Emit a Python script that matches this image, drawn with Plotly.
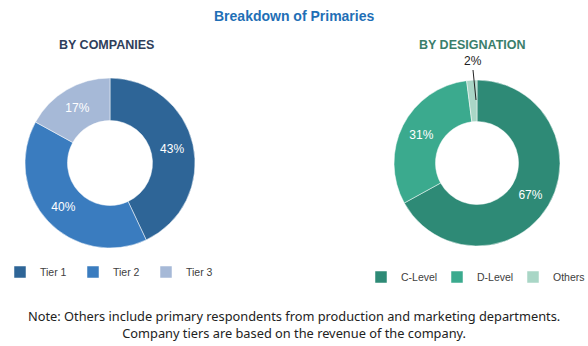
import plotly.graph_objects as go

company_labels = ["Tier 1", "Tier 2", "Tier 3"]
company_values = [43, 40, 17]
company_colors = ["#2E6597", "#3A7CBF", "#A6B9D7"]

designation_labels = ["C-Level", "D-Level", "Others"]
designation_values = [67, 31, 2]
designation_colors = ["#2E8A76", "#3BAA8E", "#A9D6C6"]

title_text = "Breakdown of Primaries"
left_title = "BY COMPANIES"
right_title = "BY DESIGNATION"
note_lines = ["Note: Others include primary respondents from production and marketing departments.",
              "Company tiers are based on the revenue of the company."]

W, H = 588, 346

def dom(cx, cy, r):
    return dict(x=[(cx - r) / W, (cx + r) / W], y=[1 - (cy + r) / H, 1 - (cy - r) / H])

fig = go.Figure()
fig.add_trace(go.Pie(
    labels=company_labels, values=company_values, hole=0.5, sort=False,
    direction="clockwise", rotation=0,
    marker=dict(colors=company_colors, line=dict(color="white", width=0.5)),
    texttemplate="%{value}%", textposition="inside", insidetextorientation="horizontal",
    textfont=dict(color="white", size=12, family="Liberation Sans"),
    domain=dom(110, 163, 85), legend="legend", hoverinfo="label+percent",
))
fig.add_trace(go.Pie(
    labels=designation_labels, values=designation_values, hole=0.5, sort=False,
    direction="clockwise", rotation=0,
    marker=dict(colors=designation_colors, line=dict(color="white", width=0.5)),
    texttemplate=["%{value}%", "%{value}%", ""], textposition="inside",
    insidetextorientation="horizontal",
    textfont=dict(color="white", size=12, family="Liberation Sans"),
    domain=dom(477, 163, 83), legend="legend2", hoverinfo="label+percent",
))

legend_font = dict(size=10.5, color="#404040", family="Liberation Sans")
fig.update_layout(
    width=W, height=H, margin=dict(l=0, r=0, t=0, b=0, autoexpand=False),
    paper_bgcolor="white", plot_bgcolor="white",
    showlegend=True,
    legend=dict(orientation="h", x=0, y=1 - 272 / H, xanchor="left", yanchor="middle",
                font=legend_font, entrywidth=28, itemwidth=30, traceorder="normal",
                bgcolor="rgba(0,0,0,0)"),
    legend2=dict(orientation="h", x=361 / W, y=1 - 277 / H, xanchor="left", yanchor="middle",
                 font=legend_font, entrywidth=31, itemwidth=30, traceorder="normal",
                 bgcolor="rgba(0,0,0,0)"),
    annotations=[
        dict(text="<b>" + title_text + "</b>", x=0.5, y=1 - 16 / H, xref="paper", yref="paper",
             showarrow=False, xanchor="center", yanchor="middle",
             font=dict(size=14, color="#1F6FB6", family="Liberation Sans")),
        dict(text="<b>" + left_title + "</b>", x=106 / W, y=1 - 45 / H, xref="paper", yref="paper",
             showarrow=False, xanchor="center", yanchor="middle",
             font=dict(size=12.5, color="#2F3E5B", family="Liberation Sans")),
        dict(text="<b>" + right_title + "</b>", x=473 / W, y=1 - 45 / H, xref="paper", yref="paper",
             showarrow=False, xanchor="center", yanchor="middle",
             font=dict(size=12.5, color="#3A7E6B", family="Liberation Sans")),
        dict(text=str(designation_values[2]) + "%", x=476 / W, y=1 - 100 / H, xref="paper", yref="paper",
             showarrow=True, arrowhead=0, arrowwidth=1, arrowcolor="#222222", ax=-3, ay=-30,
             font=dict(size=12, color="#222222", family="Liberation Sans"), yanchor="bottom"),
        dict(text=note_lines[0] + "<br>" + note_lines[1], x=0.5, y=1 - 324 / H, xref="paper", yref="paper",
             showarrow=False, align="center", xanchor="center", yanchor="middle",
             font=dict(size=12.8, color="#222222", family="Noto Sans")),
    ],
)

fig.write_html("out.html")
